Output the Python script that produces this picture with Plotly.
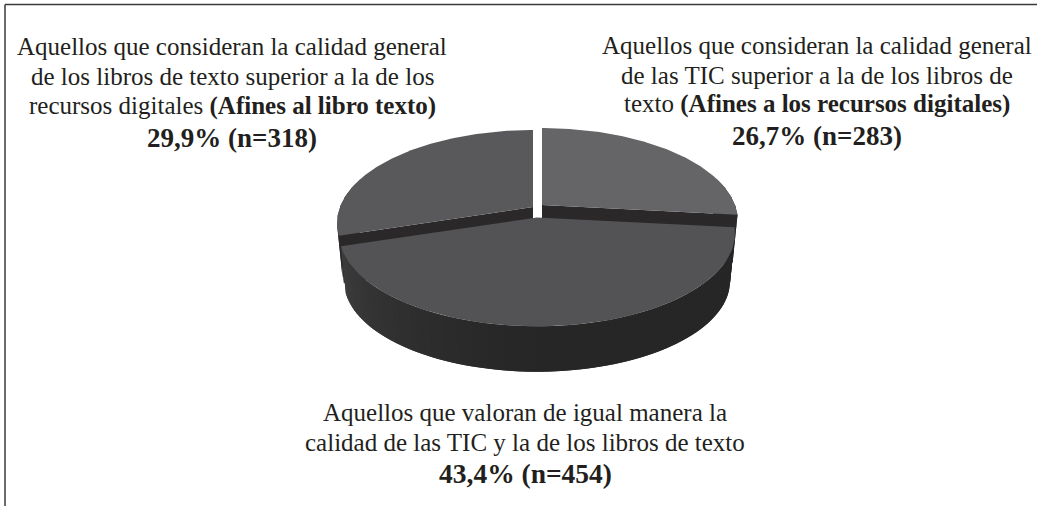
import numpy as np
import plotly.graph_objects as go

# ---- data ----
categories = ["Afines a los recursos digitales", "Igual valoración", "Afines al libro texto"]
percentages = [26.7, 43.4, 29.9]
counts = [283, 454, 318]

labels_right = ["Aquellos que consideran la calidad general",
                "de las TIC superior a la de los libros de",
                "texto <b>(Afines a los recursos digitales)</b>",
                "<b>26,7% (n=283)</b>"]
labels_left = ["Aquellos que consideran la calidad general",
               "de los libros de texto superior a la de los",
               "recursos digitales <b>(Afines al libro texto)</b>",
               "<b>29,9% (n=318)</b>"]
labels_bottom = ["Aquellos que valoran de igual manera la",
                 "calidad de las TIC y la de los libros de texto",
                 "<b>43,4% (n=454)</b>"]

# ---- styling / geometry of the projected pie ----
W, H = 1037, 506
K, B = 0.172, 90.2
apex = [(542, 205), (537, 217.5), (533, 207)]
radius = [193, 195, 193]
top_col = ["#656567", "#535355", "#59595b"]
DEPTH, BOTTOM_SCALE = 48, 0.975
DARK = "#2a2829"


def proj(theta_deg, i, s=1.0, dy=0.0):
    t = np.radians(theta_deg)
    X, Y = np.sin(t), -np.cos(t)
    w = 1 - K * Y
    return apex[i][0] + radius[i] * s * X / w, apex[i][1] + B * s * Y / w + dy


def side_colour(theta):
    # lighter toward the left end of the front wall
    f = np.clip((theta - 175) / 75, 0, 1) ** 1.5
    v = 39 + 22 * f
    return f"rgb({v:.0f},{v - 1:.0f},{v:.0f})"


fig = go.Figure()


def poly(xs, ys, colour):
    fig.add_trace(go.Scatter(x=list(xs), y=list(ys), mode="lines", fill="toself",
                             fillcolor=colour, line=dict(color=colour, width=0),
                             hoverinfo="skip", showlegend=False))


def wall(i, a, b, colour):
    x1, y1 = proj(np.array([a, b]), i)
    x2, y2 = proj(np.array([b, a]), i, BOTTOM_SCALE, DEPTH)
    poly(np.r_[x1, x2], np.r_[y1, y2], colour)


edges = np.concatenate([[0], np.cumsum(percentages)]) / sum(percentages) * 360

# radial cut faces and rim of the two back slices, then the front slice
for i in (0, 2):
    for e in (edges[i], edges[i + 1]):
        rx, ry = proj(np.array([e]), i)
        rbx, rby = proj(np.array([e]), i, BOTTOM_SCALE, DEPTH)
        ax, ay = apex[i]
        poly([ax, rx[0], rbx[0], ax], [ay, ry[0], rby[0], ay + DEPTH], DARK)
    steps = np.r_[np.arange(edges[i], edges[i + 1], 6.0), edges[i + 1]]
    for a, b in zip(steps[:-1], steps[1:]):
        if np.sin(np.radians((a + b) / 2)) ** 2 > 0.9:
            wall(i, a, min(b + 1, edges[i + 1]), DARK)

steps = np.r_[np.arange(edges[1], edges[2], 2.0), edges[2]]
for a, b in zip(steps[:-1], steps[1:]):
    # each strip overlaps the next to avoid anti-aliased seams
    wall(1, a, min(b + 2, edges[2]), side_colour((a + b) / 2))

# top faces
for i in range(3):
    th = np.linspace(edges[i], edges[i + 1], 120)
    xt, yt = proj(th, i)
    poly(np.r_[apex[i][0], xt, apex[i][0]], np.r_[apex[i][1], yt, apex[i][1]], top_col[i])

annotations = []


def block(lines, cx, ys, sizes):
    for txt, y, sz in zip(lines, ys, sizes):
        annotations.append(dict(x=cx, y=y, text=txt, showarrow=False, xanchor="center",
                                yanchor="middle", xref="x", yref="y",
                                font=dict(family="Liberation Serif", size=sz, color="#231f20")))


block(labels_left, 232, [46, 76, 106, 138], [25, 25, 25, 27])
block(labels_right, 817, [45, 75, 104, 136], [25, 25, 25, 27])
block(labels_bottom, 525, [412, 442, 473], [25, 25, 27.5])

border = dict(color="#3a3a3a", width=1.5)
fig.update_layout(
    width=W, height=H, margin=dict(l=0, r=0, t=0, b=0),
    paper_bgcolor="white", plot_bgcolor="white",
    xaxis=dict(range=[0, W], visible=False, fixedrange=True),
    yaxis=dict(range=[H, 0], visible=False, fixedrange=True),
    annotations=annotations,
    shapes=[dict(type="line", x0=5, x1=W, y0=4.5, y1=4.5, line=border),
            dict(type="line", x0=5, x1=5, y0=4.5, y1=H, line=border)],
)
fig.write_html("out.html", config=dict(displayModeBar=False),
               post_script="document.body.style.margin='0';document.documentElement.style.overflow='hidden';")
